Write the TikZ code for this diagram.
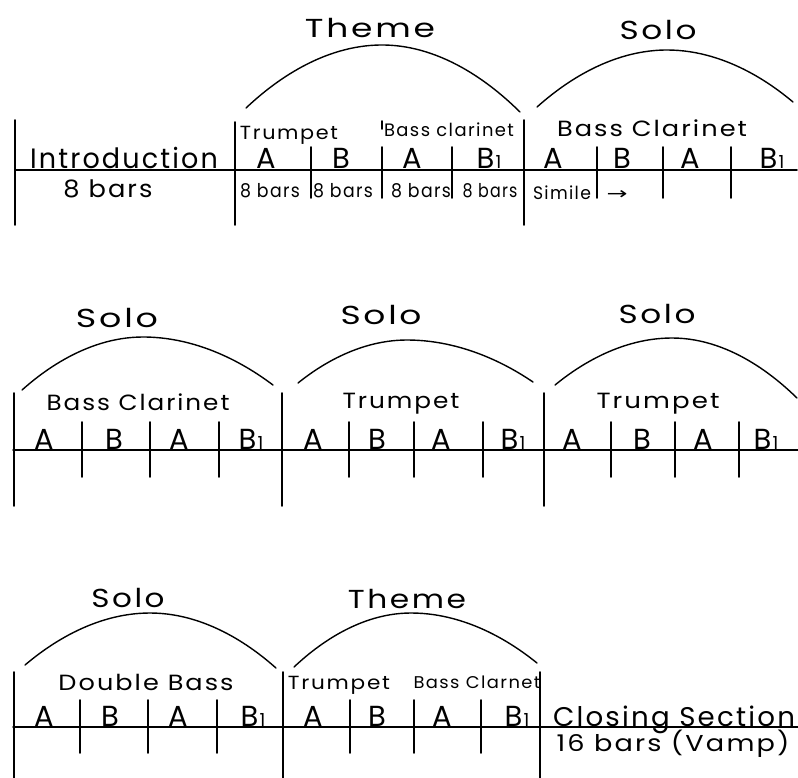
\documentclass[tikz,border=0pt]{standalone}
\usepackage{fontspec}
\usepackage{graphicx}
\setmainfont{Poppins}
\newfontfamily\handfont[LetterSpace=8]{Poppins}
\newfontfamily\arrowfont{DejaVu Sans}
% stretch a label horizontally to a given width (in pt), keeping its height
\newcommand\wide[2]{\resizebox{#1pt}{\height}{#2}}
% section letter B with its small index 1
\newcommand\Bone{B\kern1pt{\fontsize{18}{18}\selectfont 1}}

\tikzset{
  txt/.style={anchor=base, inner sep=0pt, outer sep=0pt,
              font=\handfont\fontsize{#1}{#1}\selectfont},
  letter/.style={txt=29},
  rule/.style={line width=1.5pt, line cap=round},
  bar/.style={line width=1.8pt, line cap=round},
  arcline/.style={line width=1.4pt, line cap=round},
}

\begin{document}
\begin{tikzpicture}[x=1pt, y=-1pt]
\useasboundingbox (0,0) rectangle (798,778);

% ---------------- first line: introduction, theme, solo ----------------
\node[txt=26] (themeA) at (370,38) {\wide{130}{Theme}};
\node[txt=26] (soloA)  at (658,40) {\wide{77}{Solo}};
\draw[arcline] (246,108) parabola bend (382,45) (520,112);
\draw[arcline] (537,107) parabola bend (667,50) (793,102);

\draw[rule] (15,170) -- (797,170);
\foreach \x/\t in {15/120, 235/122, 524/120}
  \draw[bar] (\x,\t) -- (\x,225);
\foreach \x in {311,382,452,597,663,731}
  \draw[bar] (\x,147) -- (\x,198);
\draw[bar] (382,121) -- (382,129);

\node[txt=28] (intro)    at (124,169) {\wide{188}{Introduction}};
\node[txt=24] (introlen) at (108,198) {\wide{89}{8 bars}};
\node[txt=19] (trpA)     at (289,140) {\wide{98}{Trumpet}};
\node[txt=18] (bclA)     at (449,137) {\wide{130}{Bass clarinet}};
\node[txt=22] (bclB)     at (652,137) {\wide{190}{Bass Clarinet}};

\node[letter] (a1) at (266,169) {A};
\node[letter] (a2) at (341,169) {B};
\node[letter] (a3) at (412,169) {A};
\node[letter] (a4) at (489,169) {\Bone};
\node[letter] (a5) at (553,169) {A};
\node[letter] (a6) at (622,169) {B};
\node[letter] (a7) at (690,169) {A};
\node[letter] (a8) at (772,169) {\Bone};

\node[txt=19] (len1) at (270,198) {\wide{60}{8 bars}};
\node[txt=19] (len2) at (343,198) {\wide{60}{8 bars}};
\node[txt=19] (len3) at (421,198) {\wide{60}{8 bars}};
\node[txt=19] (len4) at (490,198) {\wide{55}{8 bars}};
\node[txt=18] (simile) at (562,200) {\wide{58}{Simile}};
\node[anchor=base, inner sep=0pt, font=\arrowfont\fontsize{17}{17}\selectfont]
  (cont) at (617,200) {\wide{21}{→}};

% ---------------- second line: three solos ----------------
\node[txt=26] (soloB) at (117,327) {\wide{82}{Solo}};
\node[txt=26] (soloC) at (381,324) {\wide{81}{Solo}};
\node[txt=26] (soloD) at (657,323) {\wide{77}{Solo}};
\draw[arcline] (22,390) parabola bend (143,337) (273,385);
\draw[arcline] (298,383) parabola bend (407,340) (533,382);
\draw[arcline] (555,385) parabola bend (672,338) (797,398);

\draw[rule] (13,450) -- (798,450);
\foreach \x in {14,282,544}
  \draw[bar] (\x,393) -- (\x,506);
\foreach \x in {82,150,219,349,414,483,611,675,739}
  \draw[bar] (\x,422) -- (\x,477);

\node[txt=22] (bclC) at (138,410) {\wide{183}{Bass Clarinet}};
\node[txt=22] (trpB) at (401,408) {\wide{117}{Trumpet}};
\node[txt=22] (trpC) at (658,408) {\wide{123}{Trumpet}};

\node[letter] (b1)  at (44,449)  {A};
\node[letter] (b2)  at (114,449) {B};
\node[letter] (b3)  at (179,449) {A};
\node[letter] (b4)  at (251,449) {\Bone};
\node[letter] (b5)  at (313,449) {A};
\node[letter] (b6)  at (377,449) {B};
\node[letter] (b7)  at (441,449) {A};
\node[letter] (b8)  at (513,449) {\Bone};
\node[letter] (b9)  at (572,449) {A};
\node[letter] (b10) at (642,449) {B};
\node[letter] (b11) at (703,449) {A};
\node[letter] (b12) at (766,449) {\Bone};

% ---------------- third line: solo, theme, closing ----------------
\node[txt=26] (soloE)  at (128,607) {\wide{73}{Solo}};
\node[txt=26] (themeB) at (407,608) {\wide{118}{Theme}};
\draw[arcline] (25,665) parabola bend (150,613) (276,668);
\draw[arcline] (294,667) parabola bend (411,613) (537,663);

\draw[rule] (13,727) -- (798,727);
\foreach \x in {14,283,540}
  \draw[bar] (\x,672) -- (\x,778);
\foreach \x in {80,148,217,350,414,481}
  \draw[bar] (\x,700) -- (\x,753);

\node[txt=22] (dbass) at (146,690) {\wide{175}{Double Bass}};
\node[txt=19] (trpD)  at (339,689) {\wide{102}{Trumpet}};
\node[txt=17] (bclD)  at (477,688) {\wide{127}{Bass Clarnet}};

\node[letter] (c1) at (44,726)  {A};
\node[letter] (c2) at (110,726) {B};
\node[letter] (c3) at (178,726) {A};
\node[letter] (c4) at (253,726) {\Bone};
\node[letter] (c5) at (313,726) {A};
\node[letter] (c6) at (377,726) {B};
\node[letter] (c7) at (442,726) {A};
\node[letter] (c8) at (517,726) {\Bone};

\node[txt=27] (closing) at (674,726) {\wide{242}{Closing Section}};
\node[txt=23] (vamp)    at (673,751) {\wide{233}{16 bars (Vamp)}};
\end{tikzpicture}
\end{document}
